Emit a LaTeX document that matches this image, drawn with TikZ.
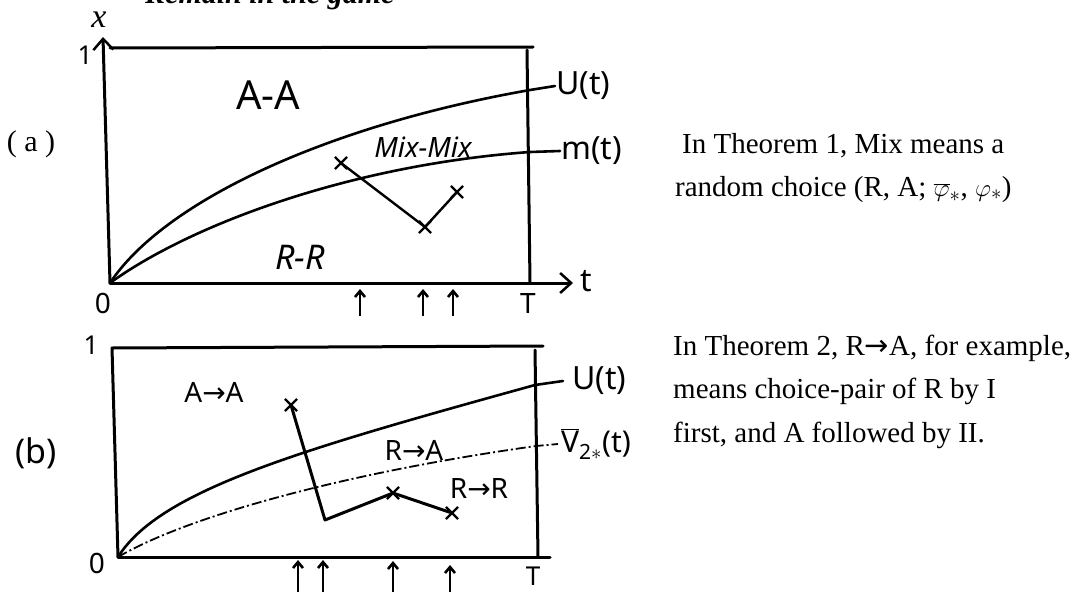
\documentclass[tikz,border=0pt]{standalone}
\usepackage{fontspec}
\setmainfont{Liberation Serif}
\setsansfont{Noto Sans}
\newfontfamily\arrowfont{DejaVu Sans}
\usepackage{tikz}
\usetikzlibrary{arrows.meta, positioning, shapes.misc}

\newcommand{\toarrow}{{\arrowfont\symbol{"2192}}}

\begin{document}
\begin{tikzpicture}[
    x=1pt, y=-1pt,
    frame/.style={line width=3pt, line cap=round, line join=round},
    curve/.style={line width=2.6pt, line cap=round},
    dashcurve/.style={line width=1.8pt, dash pattern=on 10pt off 3pt on 2pt off 3pt},
    walk/.style={line width=2.4pt, line cap=round, line join=round},
    axisarrow/.style={-{Straight Barb[length=11pt, width=20pt, line width=2.5pt]}},
    tickarrow/.style={line width=2.6pt, -{Straight Barb[length=6pt, width=10pt]}},
    crossmark/.style={cross out, draw, line width=2.2pt, minimum size=10pt, inner sep=0pt},
    hand/.style={font=\sffamily\fontsize{#1}{#1}\selectfont, inner sep=1pt},
    hand/.default=26,
    note/.style={anchor=base west, font=\fontsize{29}{29}\selectfont, inner sep=0pt},
]
\clip (0,0) rectangle (1073,594);

% ===== Header (cut off) =====
\node[anchor=base west, font=\bfseries\itshape\fontsize{30}{30}\selectfont, inner sep=0pt] (head) at (145,4) {Remain in the game};

% ===== Panel (a) =====
\coordinate (oa) at (110,283);
\draw[frame, axisarrow] (oa) -- (103,37);
\draw[frame] (110,48) -- (533,47);
\draw[frame] (527,50) -- (530,283);
\draw[frame, axisarrow] (oa) -- (573,283);

\coordinate (uaend) at (555,86);
\coordinate (maend) at (560,151);
\draw[curve] (oa) .. controls (165,200) and (330,125) .. (530,90) -- (uaend);
\draw[curve] (oa) .. controls (190,225) and (350,165) .. (530,152) -- (maend);

% random walk
\node[crossmark] (a1) at (341,163) {};
\node[crossmark] (a2) at (425,227) {};
\node[crossmark] (a3) at (457,192) {};
\draw[walk] (a1.center) -- (a2.center) -- (a3.center);

\foreach \tx in {360,423,453}
    \draw[tickarrow] (\tx,316) -- (\tx,289);

\node[anchor=base, font=\itshape\fontsize{34}{34}\selectfont, inner sep=0pt] (xlab) at (99,28) {x};
\node[hand=26] (onea) at (85,55) {1};
\node[hand=28] (zeroa) at (103,303) {0};
\node[hand=28] (Ta) at (528,304) {T};
\node[hand=32] (tlab) at (586,281) {t};
\node[font=\fontsize{30}{30}\selectfont] (laba) at (31,144) {( a )};
\node[hand=40] (aa) at (268,95) {A-A};
\node[hand=28] (mixmix) at (423,147) {\itshape Mix-Mix};
\node[hand=34] (rr) at (300,257) {\itshape R-R};
\node[hand=32, right=0pt of uaend] (ua) {U(t)};
\node[hand=32, right=0pt of maend] (ma) {m(t)};

% ===== Panel (b) =====
\coordinate (ob) at (118,557);
\draw[frame] (ob) -- (112,348) -- (543,346);
\draw[frame] (535,350) -- (538,557);
\draw[frame] (ob) -- (550,557);

\coordinate (ubend) at (563,381);
\coordinate (vbend) at (558,444);
\draw[curve] (ob) .. controls (160,490) and (300,450) .. (535,385) -- (ubend);
\draw[dashcurve] (ob) .. controls (190,515) and (350,472) .. (536,446) -- (vbend);

% random walk
\node[crossmark] (b1) at (291,405) {};
\coordinate (b2) at (325,520);
\node[crossmark] (b3) at (393,493) {};
\node[crossmark] (b4) at (452,513) {};
\draw[walk, line width=3pt] (b1.center) -- (b2) -- (b3.center) -- (b4.center);

\foreach \tx/\ty in {298/560,323/560,393/561,450/565}
    \draw[tickarrow] (\tx,592) -- (\tx,\ty);

\node[hand=26] (oneb) at (91,345) {1};
\node[hand=28] (zerob) at (97,563) {0};
\node[hand=26, inner sep=0pt] (Tb) at (533,576) {T};
\node[hand=34] (labb) at (36,453) {(b)};
\node[hand=28] (aab) at (214,392) {A\toarrow A};
\node[hand=28] (rab) at (414,450) {R\toarrow A};
\node[hand=28] (rrb) at (479,488) {R\toarrow R};
\node[hand=32, right=8pt of ubend] (ub) {U(t)};
\node[hand=30, right=2pt of vbend] (vb) {$\overline{\hbox{V}}$\textsubscript{2$*$}(t)};

% ===== Notes =====
\node[note] (n1) at (682,153) {In Theorem 1, Mix means a};
\node[note] (n2) at (675,196) {random choice (R, A; $\overline{\varphi}_{*}$, $\varphi_{*}$)};
\node[note] (n3) at (673,355) {In Theorem 2, R\toarrow A, for example,};
\node[note] (n4) at (673,398) {means choice-pair of R by I};
\node[note] (n5) at (673,442) {first, and A followed by II.};

\end{tikzpicture}
\end{document}
